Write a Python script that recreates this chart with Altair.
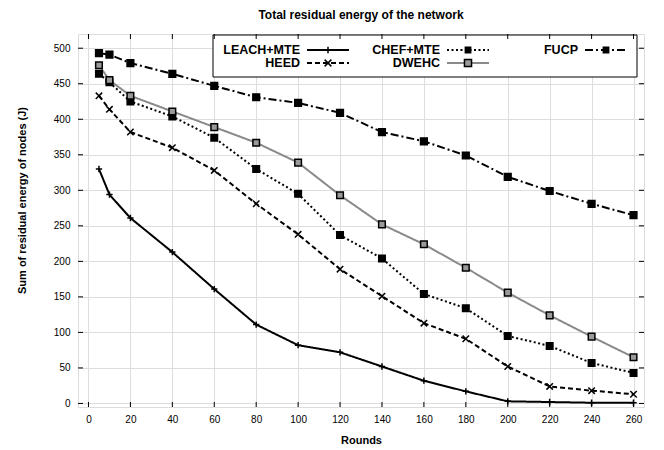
import altair as alt
import pandas as pd

# ---- data ----
rounds = [5, 10, 20, 40, 60, 80, 100, 120, 140, 160, 180, 200, 220, 240, 260]
series_names = ["LEACH+MTE", "HEED", "CHEF+MTE", "DWEHC", "FUCP"]
leach = [330, 294, 261, 213, 161, 111, 82, 72, 52, 32, 17, 3, 2, 1, 1]
heed = [433, 414, 382, 360, 328, 281, 238, 189, 151, 113, 91, 52, 24, 18, 13]
chef = [464, 452, 425, 404, 374, 330, 295, 237, 204, 154, 134, 95, 81, 57, 43]
dwehc = [476, 455, 433, 411, 389, 367, 339, 293, 252, 224, 191, 156, 124, 94, 65]
fucp = [493, 491, 479, 464, 447, 431, 423, 409, 382, 369, 349, 319, 299, 281, 265]
x_ticks = [0, 20, 40, 60, 80, 100, 120, 140, 160, 180, 200, 220, 240, 260]
y_ticks = [0, 50, 100, 150, 200, 250, 300, 350, 400, 450, 500]

rows = []
for name, vals in zip(series_names, [leach, heed, chef, dwehc, fucp]):
    for r, v in zip(rounds, vals):
        rows.append({"series": name, "round": r, "energy": v})
df = pd.DataFrame(rows)
xt = pd.DataFrame({"v": x_ticks})
yt = pd.DataFrame({"v": y_ticks})

FONT = "Liberation Sans"
PLUS = "M-1,0L1,0M0,-1L0,1"
CROSS = "M-1,-1L1,1M-1,1L1,-1"
styles = {
    "LEACH+MTE": dict(color="black", dash=[1, 0], shape=PLUS, size=40, fill="transparent"),
    "HEED": dict(color="black", dash=[5, 3], shape=CROSS, size=45, fill="transparent"),
    "CHEF+MTE": dict(color="black", dash=[2, 2.5], shape="square", size=28, fill="black"),
    "DWEHC": dict(color="#8a8a8a", dash=[1, 0], shape="square", size=50, fill="#9a9a9a"),
    "FUCP": dict(color="black", dash=[8, 3, 2, 3], shape="square", size=28, fill="black"),
}

W, H = 566, 373
x_scale = alt.Scale(domain=[-5, 265], nice=False, zero=False)
y_scale = alt.Scale(domain=[-5, 520], nice=False, zero=False)

x_axis = alt.Axis(values=x_ticks, title="Rounds", grid=True, ticks=False, domain=False,
                  labelPadding=7, titleY=27, titleBaseline="top",
                  labelOverlap=False, labelFlush=False)
y_axis = alt.Axis(values=y_ticks, title="Sum of residual energy of nodes (J)", grid=True,
                  ticks=False, domain=False, labelPadding=8, titleX=-56, titleY=166,
                  titleBaseline="middle", titleAlign="center", titleAngle=270,
                  labelOverlap=False, labelFlush=False)

X = alt.X("round:Q", scale=x_scale, axis=x_axis)
Y = alt.Y("energy:Q", scale=y_scale, axis=y_axis)

base = alt.Chart(df)
lines = base.mark_line(strokeWidth=2).encode(
    x=X, y=Y,
    color=alt.Color("series:N", scale=alt.Scale(domain=series_names,
                    range=[styles[s]["color"] for s in series_names]), legend=None),
    strokeDash=alt.StrokeDash("series:N", scale=alt.Scale(domain=series_names,
                    range=[styles[s]["dash"] for s in series_names]), legend=None),
    detail="series:N",
)
points = base.mark_point(stroke="black", strokeWidth=1.5, opacity=1).encode(
    x=X, y=Y,
    shape=alt.Shape("series:N", scale=alt.Scale(domain=series_names,
                    range=[styles[s]["shape"] for s in series_names]), legend=None),
    size=alt.Size("series:N", scale=alt.Scale(domain=series_names,
                    range=[styles[s]["size"] for s in series_names]), legend=None),
    fill=alt.Fill("series:N", scale=alt.Scale(domain=series_names,
                    range=[styles[s]["fill"] for s in series_names]), legend=None),
)

# inward ticks on all four sides
XT = alt.X("v:Q", scale=x_scale, axis=x_axis)
YT = alt.Y("v:Q", scale=y_scale, axis=y_axis)
tick_b = alt.Chart(xt).mark_rule(color="black", strokeWidth=1).encode(
    x=XT, y=alt.value(H), y2=alt.value(H - 5))
tick_t = alt.Chart(xt).mark_rule(color="black", strokeWidth=1).encode(
    x=XT, y=alt.value(0), y2=alt.value(5))
tick_l = alt.Chart(yt).mark_rule(color="black", strokeWidth=1).encode(
    y=YT, x=alt.value(0), x2=alt.value(5))
tick_r = alt.Chart(yt).mark_rule(color="black", strokeWidth=1).encode(
    y=YT, x=alt.value(W), x2=alt.value(W - 5))

# custom gnuplot-like legend
one = alt.Data(values=[{}])
legend_layers = [
    alt.Chart(one).mark_rect(fill="white", stroke="black", strokeWidth=1).encode(
        x=alt.value(135), x2=alt.value(559), y=alt.value(1), y2=alt.value(43))
]
slots = {
    "LEACH+MTE": (222, 16), "HEED": (222, 29),
    "CHEF+MTE": (362, 16), "DWEHC": (362, 29),
    "FUCP": (500, 16),
}
for s in series_names:
    tx, ty = slots[s]
    st = styles[s]
    legend_layers.append(alt.Chart(one).mark_text(
        align="right", baseline="middle", font=FONT, fontSize=12.5, fontWeight="bold",
        color="black").encode(x=alt.value(tx), y=alt.value(ty), text=alt.value(s)))
    legend_layers.append(alt.Chart(one).mark_rule(
        color=st["color"], strokeDash=st["dash"], strokeWidth=2).encode(
        x=alt.value(tx + 7), x2=alt.value(tx + 49), y=alt.value(ty)))
    legend_layers.append(alt.Chart(one).mark_point(
        shape=st["shape"], size=st["size"], fill=st["fill"], stroke="black",
        strokeWidth=1.5, opacity=1).encode(x=alt.value(tx + 28), y=alt.value(ty)))

chart = alt.layer(lines, points, *legend_layers, tick_b, tick_t, tick_l, tick_r).properties(
    width=W, height=H,
    title=alt.TitleParams("Total residual energy of the network", font=FONT, fontSize=12,
                          fontWeight="bold", color="black", anchor="middle", offset=12),
    autosize=alt.AutoSizeParams(type="none"),
    padding={"left": 70, "top": 26, "right": 12, "bottom": 43},
).configure_view(stroke="black", strokeWidth=1.5).configure_axis(
    labelFont=FONT, labelFontSize=12, labelFontWeight="bold", labelColor="black",
    titleFont=FONT, titleFontSize=12, titleFontWeight="bold", titleColor="black",
    gridColor="#8c8c8c", gridDash=[1, 2], gridWidth=1, gridOpacity=1,
).configure(background="white")

chart.save("out.html", embed_options={"renderer": "svg", "actions": False})
